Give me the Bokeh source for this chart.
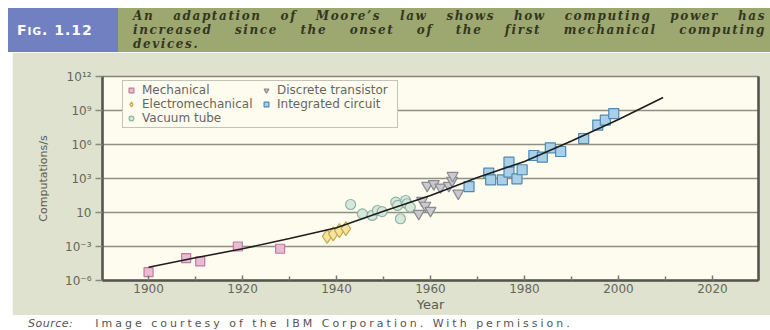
from bokeh.plotting import figure
from bokeh.models import (Range1d, FixedTicker, CustomJSTickFormatter, Legend, LegendItem,
                          Div, LinearAxis, Label)
from bokeh.layouts import column
from bokeh.embed import file_html
from bokeh.resources import INLINE

# ---------------- data ----------------
mech_years = [1900, 1908, 1911, 1919, 1928]
mech_vals = [5.4e-6, 9.3e-5, 4.8e-5, 1.0e-3, 6.3e-4]

emech_years = [1938.0, 1939.3, 1940.6, 1942.0]
emech_vals = [7.9e-3, 1.3e-2, 2.5e-2, 3.8e-2]

vac_years = [1943.0, 1945.5, 1947.6, 1948.7, 1949.7, 1952.6, 1953.0, 1953.6, 1954.7, 1955.0, 1955.7]
vac_vals = [5.1, 0.76, 0.55, 1.5, 1.2, 8.1, 4.2, 0.28, 11.5, 5.9, 3.0]

trans_years = [1957.5, 1958.2, 1958.9, 1959.3, 1960.0, 1960.7, 1962.1, 1963.9, 1964.6, 1964.7, 1965.9]
trans_vals = [0.8, 11.5, 4.2, 240, 1.5, 340, 170, 240, 660, 1800, 50]

ic_years = [1968.2, 1972.4, 1972.8, 1975.3, 1976.7, 1976.7, 1978.4, 1979.5, 1982.0, 1983.8,
            1985.5, 1987.7, 1992.6, 1995.6, 1997.2, 1999.0]
ic_vals = [195, 2950, 760, 760, 2.75e4, 3.6e3, 930, 5.9e3, 1.07e5, 7.6e4,
           5.1e5, 2.4e5, 3.4e6, 5.2e7, 1.4e8, 5.4e8]

trend_years = [1900, 1910, 1920, 1930, 1940, 1950, 1960, 1970, 1980, 1990, 2000, 2009.5]
trend_vals = [1.5e-5, 1.0e-4, 6.3e-4, 5.0e-3, 4.5e-2, 1.3, 32, 1.2e3, 3.2e4, 2.0e6, 1.6e8, 1.4e10]

x_ticks = [1900, 1920, 1940, 1960, 1980, 2000, 2020]
x_minor_ticks = [1910, 1930, 1950, 1970, 1990, 2010]
ytick_exps = [-6, -3, 0, 3, 6, 9, 12]
ytick_labels = ["10\u207b\u2076", "10\u207b\u00b3", "10", "10\u00b3", "10\u2076", "10\u2079", "10\u00b9\u00b2"]

# ---------------- styles ----------------
PANEL = "#dee2cf"
PLOT_BG = "#fdfcee"
FIG_BLUE = "#7080c0"
FIG_GREEN = "#9da870"
TXT = "#5a5a52"
FONT = "DejaVu Sans"

header_html = f"""<div style="display:flex;width:762px;height:44px;">
  <div style="width:110px;height:44px;background:{FIG_BLUE};color:#ffffff;font-family:'{FONT}',sans-serif;
       font-weight:bold;font-size:14px;letter-spacing:1px;line-height:44px;padding-left:9px;box-sizing:border-box;">F<span style="font-size:10.5px;">IG</span>. 1.12</div>
  <div style="width:652px;height:44px;background:{FIG_GREEN};color:#34361f;font-family:'DejaVu Serif',serif;
       font-style:italic;font-weight:bold;font-size:12px;line-height:14px;letter-spacing:1.6px;
       padding:1px 4px 0 15px;box-sizing:border-box;">
    <div style="height:14px;text-align:justify;text-align-last:justify;white-space:nowrap;">An adaptation of Moore\u2019s law shows how computing power has</div>
    <div style="height:14px;text-align:justify;text-align-last:justify;white-space:nowrap;">increased since the onset of the first mechanical computing</div>
    <div style="height:14px;">devices.</div>
  </div>
</div>"""
header = Div(text=header_html, width=762, height=44, margin=(8, 0, 0, 8))

source_html = f"""<div style="font-family:'{FONT}',sans-serif;font-size:11px;line-height:11px;color:#555555;white-space:nowrap;padding:2px 0 0 28px;">
<i style="letter-spacing:0.5px;">Source:</i><span style="margin-left:22px;letter-spacing:3px;">Image courtesy of the IBM Corporation. With permission.</span>
</div>"""
source = Div(text=source_html, width=770, height=14, margin=0)

p = figure(width=758, height=263, margin=(0, 0, 0, 12),
           x_range=Range1d(1890.2, 2029.8), y_range=Range1d(1e-6, 1e12), y_axis_type="log",
           output_backend="svg", toolbar_location=None,
           min_border_left=90, min_border_right=12, min_border_top=24, min_border_bottom=35,
           background_fill_color=PLOT_BG, border_fill_color=PANEL)

title = Label(x=330, y=218, x_units="screen", y_units="screen", text="Information processing scaling",
              text_align="center", text_baseline="middle", text_font=FONT, text_font_size="13px",
              text_color=TXT)
p.add_layout(title)

p.outline_line_color = "#85857a"
p.outline_line_width = 1.5

# x axis
p.xaxis.ticker = FixedTicker(ticks=x_ticks, minor_ticks=x_minor_ticks)
p.xaxis.axis_line_color = "#55554d"
p.xaxis.axis_line_width = 2.5
p.xaxis.major_tick_in = 5
p.xaxis.major_tick_out = 0
p.xaxis.minor_tick_in = 4
p.xaxis.minor_tick_out = 0
p.xaxis.major_tick_line_color = "#77776e"
p.xaxis.minor_tick_line_color = "#77776e"
p.xaxis.major_tick_line_width = 1.5
p.xaxis.minor_tick_line_width = 1.5
p.xaxis.major_label_text_font = FONT
p.xaxis.major_label_text_font_size = "12px"
p.xaxis.major_label_text_color = "#66665e"
p.xaxis.major_label_standoff = 3
p.xaxis.axis_label = "Year"
p.xaxis.axis_label_text_font = FONT
p.xaxis.axis_label_text_font_size = "13px"
p.xaxis.axis_label_text_font_style = "normal"
p.xaxis.axis_label_text_color = TXT
p.xaxis.axis_label_standoff = 1

# y axis
p.yaxis.ticker = FixedTicker(ticks=[10.0 ** e for e in ytick_exps], minor_ticks=[])
p.yaxis.formatter = CustomJSTickFormatter(args=dict(exps=ytick_exps, labels=ytick_labels), code="""
const e = Math.round(Math.log10(tick));
const i = exps.indexOf(e);
return i >= 0 ? labels[i] : '';
""")
p.yaxis.axis_line_color = "#55554d"
p.yaxis.axis_line_width = 2.5
p.yaxis.major_tick_in = 0
p.yaxis.major_tick_out = 7
p.yaxis.major_tick_line_color = "#8a8a80"
p.yaxis.major_tick_line_width = 1.3
p.yaxis.minor_tick_line_color = None
p.yaxis.major_label_text_font = FONT
p.yaxis.major_label_text_font_size = "12px"
p.yaxis.major_label_text_color = "#66665e"
p.yaxis.major_label_standoff = 4
p.yaxis.axis_label = "Computations/s"
p.yaxis.axis_label_text_font = FONT
p.yaxis.axis_label_text_font_size = "11px"
p.yaxis.axis_label_text_font_style = "normal"
p.yaxis.axis_label_text_color = TXT
p.yaxis.axis_label_standoff = 12

right_axis = LinearAxis(ticker=FixedTicker(ticks=[]), axis_line_color="#55554d", axis_line_width=2.5,
                        major_tick_line_color=None, minor_tick_line_color=None)
p.add_layout(right_axis, "right")

p.xgrid.visible = False
p.ygrid.grid_line_color = "#8f8f84"
p.ygrid.grid_line_width = 1.4

# markers
r_mech = p.scatter(mech_years, mech_vals, marker="square", size=9,
                   fill_color="#e9bcd2", line_color="#bf7aa0", line_width=1.2)
r_emech = p.scatter(emech_years, emech_vals, marker="diamond", size=14,
                    fill_color="#f4e4a2", line_color="#c9aa48", line_width=1.2)
r_vac = p.scatter(vac_years, vac_vals, marker="circle", size=10,
                  fill_color="#d6e8dc", line_color="#8fb3a3", line_width=1.2)
r_trans = p.scatter(trans_years, trans_vals, marker="inverted_triangle", size=11,
                    fill_color="#c9c9ce", line_color="#8a8a92", line_width=1.2)
r_ic = p.scatter(ic_years, ic_vals, marker="square", size=10,
                 fill_color="#aad0e8", line_color="#4f88b2", line_width=1.2)

p.line(trend_years, trend_vals, line_color="#1e1e1e", line_width=1.6)

legend = Legend(items=[
    LegendItem(label="Mechanical", renderers=[r_mech]),
    LegendItem(label="Electromechanical", renderers=[r_emech]),
    LegendItem(label="Vacuum tube", renderers=[r_vac]),
    LegendItem(label="Discrete transistor", renderers=[r_trans]),
    LegendItem(label="Integrated circuit", renderers=[r_ic]),
], ncols=2, location=(20, 152))
legend.label_text_font = FONT
legend.label_text_font_size = "12px"
legend.label_text_color = "#66665e"
legend.label_height = 12
legend.label_width = 118
legend.glyph_height = 12
legend.glyph_width = 12
legend.label_standoff = 5
legend.spacing = 0
legend.padding = 2
legend.margin = 0
legend.border_line_color = "#8a8a80"
legend.border_line_width = 1
legend.background_fill_color = PLOT_BG
legend.background_fill_alpha = 1
p.add_layout(legend)

layout = column(header, p, source, spacing=0)

open("out.html", "w").write(file_html(layout, INLINE))
